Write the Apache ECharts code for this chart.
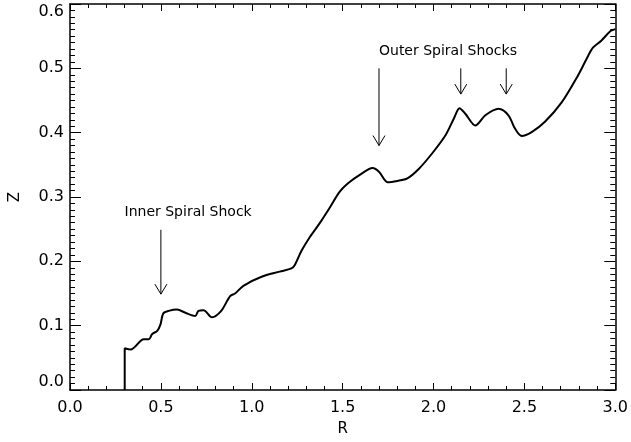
<!DOCTYPE html>
<html>
<head>
<meta charset="utf-8">
<script src="https://cdn.jsdelivr.net/npm/echarts@6/dist/echarts.min.js"></script>
<style>html,body{margin:0;padding:0;background:#fff}#c{width:631px;height:442px}</style>
</head>
<body>
<div id="c"></div>
<script>
// ---- data ----
var R = [0.301, 0.301, 0.334, 0.406, 0.434, 0.452, 0.480, 0.498, 0.513, 0.543, 0.589, 0.635, 0.689, 0.707, 0.735, 0.781, 0.832, 0.881, 0.908, 0.954, 1.054, 1.154, 1.218, 1.236, 1.273, 1.318, 1.373, 1.428, 1.483, 1.528, 1.592, 1.665, 1.701, 1.747, 1.801, 1.856, 1.920, 1.993, 2.066, 2.112, 2.143, 2.176, 2.230, 2.285, 2.358, 2.412, 2.449, 2.485, 2.540, 2.613, 2.705, 2.795, 2.841, 2.877, 2.923, 2.974, 3.000];
var Z = [0.000, 0.065, 0.063, 0.079, 0.079, 0.087, 0.092, 0.102, 0.119, 0.123, 0.125, 0.120, 0.115, 0.123, 0.124, 0.113, 0.123, 0.146, 0.150, 0.162, 0.176, 0.184, 0.189, 0.194, 0.216, 0.237, 0.259, 0.283, 0.308, 0.321, 0.334, 0.345, 0.339, 0.323, 0.325, 0.329, 0.344, 0.368, 0.396, 0.422, 0.438, 0.429, 0.411, 0.427, 0.437, 0.427, 0.406, 0.395, 0.401, 0.417, 0.447, 0.489, 0.514, 0.532, 0.543, 0.558, 0.561];
var xTicks = ['0.0', '0.5', '1.0', '1.5', '2.0', '2.5', '3.0'];
var yTicks = ['0.0', '0.1', '0.2', '0.3', '0.4', '0.5', '0.6'];
// annotation arrows: [R, Z from, Z to]
var arrowR = [0.5, 1.7, 2.15, 2.4];
var arrowTop = [0.249, 0.500, 0.500, 0.500];
var arrowBot = [0.149, 0.380, 0.460, 0.460];
// annotation labels: text, left R, centre Z
var labelText = ['Inner Spiral Shock', 'Outer Spiral Shocks'];
var labelR = [0.30, 1.70];
var labelZ = [0.276, 0.527];

var curve = R.map(function (r, i) { return [r, Z[i]]; });
var arrows = arrowR.map(function (r, i) { return [r, arrowTop[i], arrowBot[i]]; });
var labels = labelText.map(function (t, i) { return [labelR[i], labelZ[i], t]; });

var FONT = 'DejaVu Sans';
var chart = echarts.init(document.getElementById('c'), null, { renderer: 'canvas' });

function axisCommon(extra) {
  var base = {
    axisLine: { show: true, onZero: false, lineStyle: { color: '#000', width: 1.5 } },
    splitLine: { show: false },
    animation: false
  };
  for (var k in extra) base[k] = extra[k];
  return base;
}

var option = {
  animation: false,
  backgroundColor: '#fff',
  grid: { left: 69, right: 14, top: 4, bottom: 49, containLabel: false },
  xAxis: [
    axisCommon({
      type: 'value', min: 0, max: 3, interval: 0.5, position: 'bottom',
      name: 'R', nameLocation: 'middle', nameGap: 32,
      nameTextStyle: { fontFamily: FONT, fontSize: 15, color: '#000' },
      axisTick: { show: true, inside: true, length: 7, lineStyle: { color: '#000', width: 1 } },
      minorTick: { show: true, splitNumber: 5, length: 4, lineStyle: { color: '#000', width: 1 } },
      axisLabel: { show: true, margin: 10, fontFamily: FONT, fontSize: 16, color: '#000',
        formatter: function (v) { return xTicks[Math.round(v / 0.5)]; } }
    }),
    axisCommon({
      type: 'value', min: 0, max: 3, interval: 0.5, position: 'top',
      axisTick: { show: true, inside: true, length: 7, lineStyle: { color: '#000', width: 1 } },
      minorTick: { show: true, splitNumber: 5, length: 4, lineStyle: { color: '#000', width: 1 } },
      axisLabel: { show: false }
    })
  ],
  yAxis: [
    axisCommon({
      type: 'value', min: 0, max: 0.6, interval: 0.1, position: 'left',
      name: 'Z', nameLocation: 'middle', nameGap: 47, nameRotate: 90,
      nameTextStyle: { fontFamily: FONT, fontSize: 15, color: '#000' },
      axisTick: { show: true, inside: true, length: 11, lineStyle: { color: '#000', width: 1 } },
      minorTick: { show: true, splitNumber: 10, length: 5, lineStyle: { color: '#000', width: 1 } },
      axisLabel: { show: true, margin: 6, fontFamily: FONT, fontSize: 16, color: '#000',
        verticalAlignMinLabel: 'bottom', verticalAlignMaxLabel: 'top',
        formatter: function (v) { return yTicks[Math.round(v / 0.1)]; } }
    }),
    axisCommon({
      type: 'value', min: 0, max: 0.6, interval: 0.1, position: 'right',
      axisTick: { show: true, inside: true, length: 11, lineStyle: { color: '#000', width: 1 } },
      minorTick: { show: true, splitNumber: 10, length: 5, lineStyle: { color: '#000', width: 1 } },
      axisLabel: { show: false }
    })
  ],
  series: [
    {
      type: 'line', xAxisIndex: 0, yAxisIndex: 0,
      data: curve, showSymbol: false, smooth: 0.3,
      lineStyle: { color: '#000', width: 2 },
      silent: true, z: 5
    },
    {
      type: 'custom', xAxisIndex: 0, yAxisIndex: 0,
      data: arrows, silent: true, clip: false, z: 6,
      renderItem: function (params, api) {
        var p1 = api.coord([api.value(0), api.value(1)]);
        var p2 = api.coord([api.value(0), api.value(2)]);
        var st = { stroke: '#000', lineWidth: 1, fill: null };
        return {
          type: 'group',
          children: [
            { type: 'line', shape: { x1: p1[0], y1: p1[1], x2: p2[0], y2: p2[1] }, style: st },
            { type: 'polyline', shape: { points: [[p2[0] - 6, p2[1] - 10], [p2[0], p2[1]], [p2[0] + 6, p2[1] - 10]] }, style: st }
          ]
        };
      }
    },
    {
      type: 'custom', xAxisIndex: 0, yAxisIndex: 0,
      data: labels, silent: true, clip: false, z: 6,
      dimensions: ['x', 'y', 't'],
      renderItem: function (params, api) {
        var p = api.coord([api.value(0), api.value(1)]);
        return {
          type: 'text', x: p[0], y: p[1],
          style: { text: labels[params.dataIndex][2], fill: '#000', font: '14px "' + FONT + '"', align: 'left', verticalAlign: 'middle' }
        };
      }
    }
  ]
};
chart.setOption(option);
</script>
</body>
</html>
